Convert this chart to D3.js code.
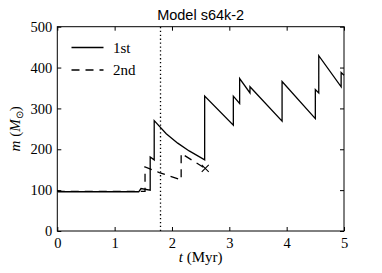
<!DOCTYPE html>
<html><head><meta charset="utf-8">
<script src="https://cdn.jsdelivr.net/npm/d3@7"></script>
<style>body{margin:0;background:#fff}svg{display:block}</style>
</head><body>
<script>
const title = "Model s64k-2";
const xTicks = [0,1,2,3,4,5];
const yTicks = [0,100,200,300,400,500];
const firstT = [0, 0.02, 1.42, 1.46, 1.62, 1.62, 1.69, 1.69, 1.9, 2.1, 2.3, 2.57, 2.57, 3.07, 3.07, 3.18, 3.18, 3.36, 3.36, 3.92, 3.92, 4.5, 4.5, 4.56, 4.56, 4.95, 4.95, 5.0];
const firstM = [99, 96, 96, 104, 100, 181, 174, 270, 238, 215, 196, 174, 330, 259, 330, 312, 373, 338, 353, 269, 366, 275, 346, 338, 429, 353, 388, 381];
const secondT = [0, 0.02, 1.53, 1.53, 1.78, 2.16, 2.16, 2.58];
const secondM = [100, 97, 97, 157, 143, 125, 190, 153];
const endMarker = {t: 2.58, m: 153};
const vline = 1.8;
const legendLabels = ["1st", "2nd"];

const W = 382, H = 273;
const m = {left: 57.3, right: 38, top: 26.7, bottom: 42};
const svg = d3.select("body").append("svg").attr("width", W).attr("height", H);
const x = d3.scaleLinear().domain([0,5]).range([m.left, W - m.right]);
const y = d3.scaleLinear().domain([0,500]).range([H - m.bottom, m.top]);
const serif = "'Liberation Serif', 'Times New Roman', serif";

const line = d3.line().x(d => x(d[0])).y(d => y(d[1]));
const s1 = firstT.map((t,i) => [t, firstM[i]]);
const s2 = secondT.map((t,i) => [t, secondM[i]]);

// dotted vertical line
svg.append("line").attr("x1", x(vline)).attr("x2", x(vline)).attr("y1", y(0)).attr("y2", y(500))
  .attr("stroke","#000").attr("stroke-width",1.3).attr("stroke-dasharray","1.3,2.6");

svg.append("path").datum(s1).attr("d", line).attr("fill","none").attr("stroke","#000").attr("stroke-width",1.3);
svg.append("path").datum(s2).attr("d", line).attr("fill","none").attr("stroke","#000").attr("stroke-width",1.3).attr("stroke-dasharray","8,6");

// X marker
const mx = x(endMarker.t), my = y(endMarker.m), r = 3.5;
svg.append("path").attr("d", `M${mx-r},${my-r}L${mx+r},${my+r}M${mx-r},${my+r}L${mx+r},${my-r}`)
  .attr("stroke","#000").attr("stroke-width",1.1);

// axes with inward ticks
const fontSize = 14.5;
function styleAxis(g){ g.select(".domain").remove(); g.selectAll("line").attr("stroke","#000"); g.selectAll("text").attr("font-family",serif).attr("font-size",fontSize).attr("fill","#000"); }
svg.append("g").attr("transform",`translate(0,${y(0)})`)
  .call(d3.axisBottom(x).tickValues(xTicks).tickFormat(d3.format("d")).tickSizeInner(-4).tickSizeOuter(0).tickPadding(7))
  .call(styleAxis);
svg.append("g").attr("transform",`translate(0,${y(500)})`)
  .call(d3.axisTop(x).tickValues(xTicks).tickFormat("").tickSizeInner(-4).tickSizeOuter(0))
  .call(styleAxis);
svg.append("g").attr("transform",`translate(${x(0)},0)`)
  .call(d3.axisLeft(y).tickValues(yTicks).tickFormat(d3.format("d")).tickSizeInner(-4).tickSizeOuter(0).tickPadding(5))
  .call(styleAxis);
svg.append("g").attr("transform",`translate(${x(5)},0)`)
  .call(d3.axisRight(y).tickValues(yTicks).tickFormat("").tickSizeInner(-4).tickSizeOuter(0))
  .call(styleAxis);

// frame
svg.append("rect").attr("x", x(0)).attr("y", y(500)).attr("width", x(5)-x(0)).attr("height", y(0)-y(500))
  .attr("fill","none").attr("stroke","#000").attr("stroke-width",1);

// title
svg.append("text").attr("x", (x(0)+x(5))/2).attr("y", 20).attr("text-anchor","middle")
  .attr("font-family","'Liberation Sans', Arial, sans-serif").attr("font-size",14.5).text(title);

// x label
const xl = svg.append("text").attr("x",(x(0)+x(5))/2).attr("y", 262).attr("text-anchor","middle")
  .attr("font-family",serif).attr("font-size",15);
xl.append("tspan").attr("font-style","italic").text("t");
xl.append("tspan").text(" (Myr)");

// y label
const yl = svg.append("text").attr("transform",`translate(20,${(y(0)+y(500))/2}) rotate(-90)`).attr("text-anchor","middle")
  .attr("font-family",serif).attr("font-size",15);
yl.append("tspan").attr("font-style","italic").text("m");
yl.append("tspan").text(" (");
yl.append("tspan").attr("font-style","italic").text("M");
yl.append("tspan").attr("font-size",10).attr("dy",3).text("⊙");
yl.append("tspan").attr("dy",-3).text(")");

// legend
const leg = [[legendLabels[0], null, 47.5],[legendLabels[1], "8,6", 70]];
leg.forEach(([lab, dash, ly]) => {
  const l = svg.append("line").attr("x1",71.5).attr("x2",103.5).attr("y1",ly).attr("y2",ly)
    .attr("stroke","#000").attr("stroke-width",1.3);
  if (dash) l.attr("stroke-dasharray", dash);
  svg.append("text").attr("x",113).attr("y",ly+5).attr("font-family",serif).attr("font-size",15).text(lab);
});
</script>
</body></html>
